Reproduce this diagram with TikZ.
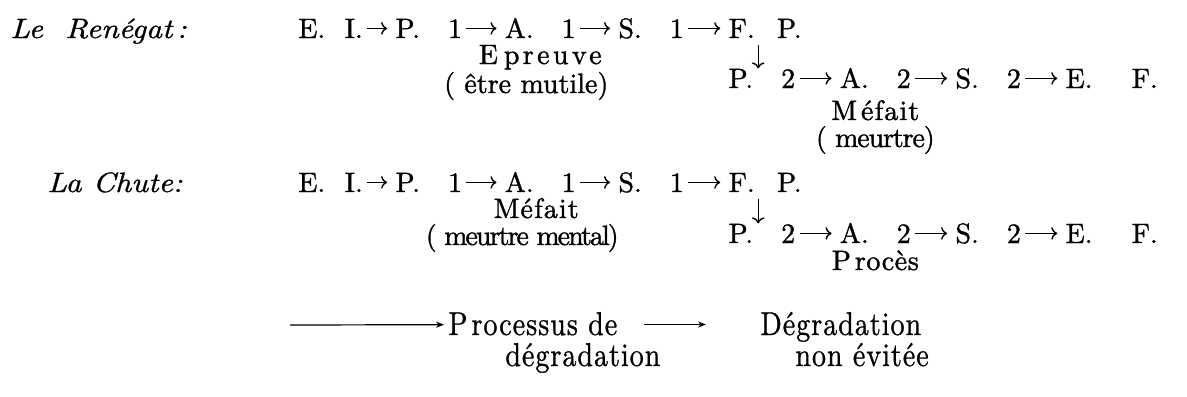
\documentclass[tikz,border=0pt]{standalone}
\usepackage{fontspec}
\usetikzlibrary{positioning, arrows.meta}

\newfontfamily\chainfont{lmroman10}[Extension=.otf, UprightFont=*-regular, ItalicFont=*-italic, FakeBold=1.2]
\newfontfamily\titlefont{lmroman10-italic}[Extension=.otf, FakeStretch=1.12, FakeBold=1.0]
\newfontfamily\legendfont{lmroman10-regular}[Extension=.otf, FakeStretch=0.85, FakeBold=0.8, LetterSpace=3]
\newcommand{\stage}[2]{#1.\hspace{1em}#2}

\begin{document}
\begin{tikzpicture}[
    x=0.5pt, y=-0.5pt,
    every node/.style={font=\chainfont\fontsize{14}{16}\selectfont},
    stage/.style={inner sep=0pt, text height=9.6pt, text depth=0pt},
    gloss/.style={anchor=base, inner sep=0pt},
    spaced/.style={font=\chainfont\fontsize{14}{16}\selectfont\addfontfeature{LetterSpace=#1}},
    title/.style={anchor=base west, inner sep=0pt, font=\titlefont\fontsize{14}{16}\selectfont},
    legend/.style={anchor=base west, inner sep=0pt, text height=10.5pt, text depth=0pt, font=\legendfont\fontsize{16.5}{18}\selectfont},
    arrow/.style={-{To[length=3pt]}, line width=0.7pt, shorten <=2pt, shorten >=4pt},
    droparrow/.style={-{To[length=3pt]}, line width=0.7pt},
    legarrow/.style={-{Stealth[length=4pt, width=3pt]}, line width=0.6pt}
]
\useasboundingbox (0,0) rectangle (1187,396);

% Le Renegat
\node[title] (renegat) at (10,38) {Le\ \ Renégat\,:};
\node[stage, anchor=base west] (eir) at (298,38) {E.\hspace{0.7em}I.};
\node[stage, right=16pt of eir] (p1r) {\stage{P}{1}};
\node[stage, right=21pt of p1r] (a1r) {\stage{A}{1}};
\node[stage, right=21pt of a1r] (s1r) {\stage{S}{1}};
\node[stage, right=22pt of s1r] (fpr) {F.\hspace{0.8em}P.};
\node[stage, anchor=west] (p2r) at ([yshift=-25pt]fpr.west) {\stage{P}{2}};
\node[stage, right=22pt of p2r] (a2r) {\stage{A}{2}};
\node[stage, right=22pt of a2r] (s2r) {\stage{S}{2}};
\node[stage, right=22pt of s2r] (efr) {E.\hspace{1.4em}F.};

\node[gloss, spaced=12] (epreuve) at ([yshift=-13pt]a1r.base) {E\hspace{3pt}preuve};
\node[gloss] (mutile) at ([xshift=-7pt, yshift=-27.5pt]a1r.base) {( être mutile)};
\node[gloss, spaced=4] (mefaitr) at ([yshift=-16pt]a2r.base) {M\hspace{2pt}éfait};
\node[gloss, spaced=-4] (meurtre) at ([yshift=-29.5pt]a2r.base) {( meurtre)};

\draw[arrow] (eir) -- (p1r);
\draw[arrow] (p1r) -- (a1r);
\draw[arrow] (a1r) -- (s1r);
\draw[arrow] (s1r) -- (fpr);
\draw[droparrow] ([xshift=15pt, yshift=-3.5pt]fpr.base west) -- ([xshift=15pt]p2r.north west);
\draw[arrow] (p2r) -- (a2r);
\draw[arrow] (a2r) -- (s2r);
\draw[arrow] (s2r) -- (efr);

% La Chute
\node[title] (chute) at (47,192) {La\ Chute:};
\node[stage, anchor=base west] (eic) at (298,192) {E.\hspace{0.7em}I.};
\node[stage, right=16pt of eic] (p1c) {\stage{P}{1}};
\node[stage, right=21pt of p1c] (a1c) {\stage{A}{1}};
\node[stage, right=21pt of a1c] (s1c) {\stage{S}{1}};
\node[stage, right=22pt of s1c] (fpc) {F.\hspace{0.8em}P.};
\node[stage, anchor=west] (p2c) at ([yshift=-25.5pt]fpc.west) {\stage{P}{2}};
\node[stage, right=22pt of p2c] (a2c) {\stage{A}{2}};
\node[stage, right=22pt of a2c] (s2c) {\stage{S}{2}};
\node[stage, right=22pt of s2c] (efc) {E.\hspace{1.4em}F.};

\node[gloss, spaced=4] (mefaitc) at ([xshift=-2pt, yshift=-13pt]a1c.base) {Méfait};
\node[gloss, spaced=-7] (mental) at ([xshift=-9pt, yshift=-26.5pt]a1c.base) {( meurtre mental)};
\node[gloss, spaced=2] (proces) at ([yshift=-13.5pt]a2c.base) {P\hspace{2pt}rocès};

\draw[arrow] (eic) -- (p1c);
\draw[arrow] (p1c) -- (a1c);
\draw[arrow] (a1c) -- (s1c);
\draw[arrow] (s1c) -- (fpc);
\draw[droparrow] ([xshift=15pt, yshift=-3.5pt]fpc.base west) -- ([xshift=15pt]p2c.north west);
\draw[arrow] (p2c) -- (a2c);
\draw[arrow] (a2c) -- (s2c);
\draw[arrow] (s2c) -- (efc);

% legend
\coordinate (lstart) at (290,325);
\node[legend] (proc) at (448,335) {P\hspace{2pt}rocessus de};
\node[legend] (degr) at (505,366) {dégradation};
\node[legend] (degrad) at (760,335) {Dégradation};
\node[legend] (nonev) at (795,366) {non évitée};

\draw[legarrow, shorten >=2pt] (lstart) -- (proc);
\draw[legarrow, shorten <=13pt, shorten >=27pt] (proc) -- (degrad);

\end{tikzpicture}
\end{document}
